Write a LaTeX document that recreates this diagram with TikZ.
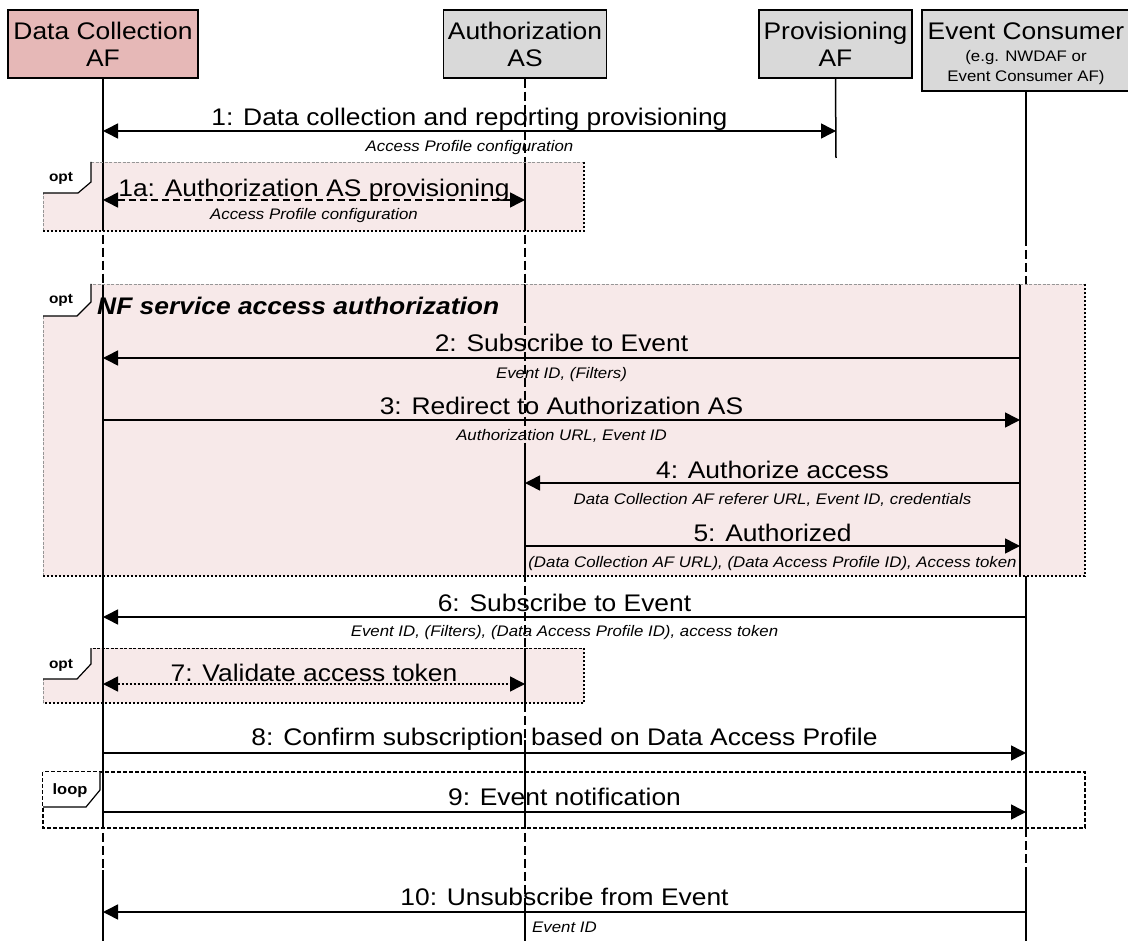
\documentclass[tikz,border=0pt]{standalone}
\usepackage{fontspec}
\setmainfont{Liberation Sans}[FakeStretch=1.1]
\usetikzlibrary{arrows.meta}
\definecolor{dcred}{RGB}{230,184,183}
\definecolor{hdgray}{RGB}{217,217,217}
\definecolor{optpink}{RGB}{247,233,233}
\definecolor{edgegray}{RGB}{150,150,150}

\begin{document}
\begin{tikzpicture}[x=1pt,y=-1pt,>={Triangle[length=15pt,width=15pt]}]
  \tikzstyle{every node}+=[inner sep=0pt]
  \tikzstyle{hdr}=[draw=black, line width=1.5pt, align=center, font=\fontsize{24}{27}\selectfont]
  \tikzstyle{life}=[line width=1.5pt, dash pattern=on 9pt off 4pt]
  \tikzstyle{actv}=[line width=1.5pt]
  \tikzstyle{msg}=[line width=1.5pt]
  \tikzstyle{lbl}=[anchor=base, font=\fontsize{24}{27}\selectfont]
  \tikzstyle{sublbl}=[anchor=base, font=\fontsize{15.3}{18}\selectfont\itshape]
  \tikzstyle{edgetl}=[draw=edgegray, line width=0.9pt, dash pattern=on 3pt off 1.5pt]
  \tikzstyle{edgebr}=[draw=black, line width=1.2pt, dash pattern=on 2pt off 2pt]
  \tikzstyle{tabline}=[line width=1.2pt]
  \tikzstyle{tabtxt}=[font=\fontsize{14}{16}\selectfont\bfseries]
  \useasboundingbox (0,0) rectangle (1128,941);

  \fill [optpink] (43,162) rectangle (584,231);
  \fill [optpink] (43,284) rectangle (1085,576);
  \fill [optpink] (43,648) rectangle (584,703);

  \node [hdr, fill=dcred, minimum width=190pt, minimum height=68pt] (dc) at (103,44) {Data Collection\\AF};
  \node [hdr, fill=hdgray, minimum width=163pt, minimum height=68pt] (as) at (525,44) {Authorization\\AS};
  \node [hdr, fill=hdgray, minimum width=153pt, minimum height=68pt] (pv) at (835.5,44) {Provisioning\\AF};
  \node [hdr, fill=hdgray, minimum width=208pt, minimum height=81pt] (ec) at (1026,50.5) {};
  \node [lbl] (ect) at (1026,40) {Event Consumer};
  \node [anchor=base, font=\fontsize{15.3}{18}\selectfont] (ecs1) at (1026,62) {(e.g. NWDAF or};
  \node [anchor=base, font=\fontsize{15.3}{18}\selectfont] (ecs2) at (1026,82) {Event Consumer AF)};

  \coordinate (dcend) at (103,941);
  \coordinate (asend) at (525,941);
  \coordinate (ecend) at (1026,941);
  \draw [life] (dc.south) -- (dcend);
  \draw [life] (as.south) -- (asend);
  \draw [life] (1026,237) -- (1026,284);
  \draw [life] (1026,828) -- (1026,870);
  \draw [actv] (dc.south) -- (103,231);
  \draw [actv] (103,284) -- (103,828);
  \draw [actv] (103,870) -- (dcend);
  \draw [actv] (525,162) -- (525,231);
  \draw [actv] (525,284) -- (525,323);
  \draw [actv] (525,445) -- (525,576);
  \draw [actv] (525,648) -- (525,703);
  \draw [actv] (525,740) -- (525,828);
  \draw [actv] (525,905) -- (asend);
  \draw [actv] (pv.south) -- (836,158);
  \draw [actv] (ec.south) -- (1026,237);
  \draw [actv] (1020,284) -- (1020,576);
  \draw [actv] (1026,576) -- (1026,828);
  \draw [actv] (1026,870) -- (ecend);

  \draw [edgetl] (43,231) -- (43,162) -- (584,162);
  \draw [edgebr] (584,162) -- (584,231) -- (43,231);
  \draw [edgetl] (43,576) -- (43,284) -- (1085,284);
  \draw [edgebr] (1085,284) -- (1085,576) -- (43,576);
  \draw [edgetl] (43,703) -- (43,648);
  \draw [draw=black, line width=1pt, dash pattern=on 3pt off 1.5pt] (43,648) -- (584,648);
  \draw [edgebr] (584,648) -- (584,703) -- (43,703);
  \draw [line width=1.2pt, dash pattern=on 4pt off 2pt] (43,772) rectangle (1085,828);

  \fill [white] (43,162) -- (91,162) -- (91,182) -- (78,193) -- (43,193) -- cycle;
  \draw [tabline] (91,162) -- (91,182) -- (78,193) -- (43,193);
  \node [tabtxt] (tab1a) at (61,178) {opt};
  \fill [white] (43,284) -- (91,284) -- (91,302) -- (77,316) -- (43,316) -- cycle;
  \draw [tabline] (91,284) -- (91,302) -- (77,316) -- (43,316);
  \node [tabtxt] (tabnf) at (61,300) {opt};
  \fill [white] (43,648) -- (91,648) -- (91,664) -- (77,679) -- (43,679) -- cycle;
  \draw [tabline] (91,648) -- (91,664) -- (77,679) -- (43,679);
  \node [tabtxt] (tab7) at (61,665) {opt};
  \fill [white] (43,772) -- (100,772) -- (100,790) -- (86,807) -- (43,807) -- cycle;
  \draw [tabline] (100,772) -- (100,790) -- (86,807) -- (43,807);
  \node [tabtxt, font=\fontsize{15}{17}\selectfont\bfseries] (tabloop) at (70,791) {loop};

  \node [anchor=base west, font=\fontsize{24}{27}\selectfont\bfseries\itshape] (nftitle) at (97,315) {NF service access authorization};

  \coordinate (m1a) at (103,131);
  \coordinate (m1b) at (836,131);
  \draw [msg, <->] (m1a) -- (m1b);
  \node [lbl] (l1) at (469.5,126) {1: Data collection and reporting provisioning};
  \node [sublbl] (s1) at (469.5,152) {Access Profile configuration};

  \coordinate (m1aa) at (103,200);
  \coordinate (m1ab) at (525,200);
  \draw [msg, <->, dash pattern=on 7pt off 4pt] (m1aa) -- (m1ab);
  \node [lbl] (l1a) at (314,197) {1a: Authorization AS provisioning};
  \node [sublbl] (s1a) at (314,220) {Access Profile configuration};

  \coordinate (m2a) at (1020,358);
  \coordinate (m2b) at (103,358);
  \draw [msg, ->] (m2a) -- (m2b);
  \node [lbl] (l2) at (561.5,352) {2: Subscribe to Event};
  \node [sublbl] (s2) at (561.5,379) {Event ID, (Filters)};

  \coordinate (m3a) at (103,420);
  \coordinate (m3b) at (1020,420);
  \draw [msg, ->] (m3a) -- (m3b);
  \node [lbl] (l3) at (561.5,415) {3: Redirect to Authorization AS};
  \node [sublbl] (s3) at (561.5,441) {Authorization URL, Event ID};

  \coordinate (m4a) at (1020,483);
  \coordinate (m4b) at (525,483);
  \draw [msg, ->] (m4a) -- (m4b);
  \node [lbl] (l4) at (772.5,478) {4: Authorize access};
  \node [sublbl] (s4) at (772.5,504) {Data Collection AF referer URL, Event ID, credentials};

  \coordinate (m5a) at (525,546);
  \coordinate (m5b) at (1020,546);
  \draw [msg, ->] (m5a) -- (m5b);
  \node [lbl] (l5) at (772.5,541) {5: Authorized};
  \node [sublbl] (s5) at (772.5,567) {(Data Collection AF URL), (Data Access Profile ID), Access token};

  \coordinate (m6a) at (1026,617);
  \coordinate (m6b) at (103,617);
  \draw [msg, ->] (m6a) -- (m6b);
  \node [lbl] (l6) at (564.5,611) {6: Subscribe to Event};
  \node [sublbl] (s6) at (564.5,636) {Event ID, (Filters), (Data Access Profile ID), access token};

  \coordinate (m7a) at (103,684);
  \coordinate (m7b) at (525,684);
  \draw [msg, <->, dash pattern=on 2pt off 2pt] (m7a) -- (m7b);
  \node [lbl] (l7) at (314,681) {7: Validate access token};

  \coordinate (m8a) at (103,753);
  \coordinate (m8b) at (1026,753);
  \draw [msg, ->] (m8a) -- (m8b);
  \node [lbl] (l8) at (564.5,745) {8: Confirm subscription based on Data Access Profile};

  \coordinate (m9a) at (103,812);
  \coordinate (m9b) at (1026,812);
  \draw [msg, ->] (m9a) -- (m9b);
  \node [lbl] (l9) at (564.5,805) {9: Event notification};

  \coordinate (m10a) at (1026,912);
  \coordinate (m10b) at (103,912);
  \draw [msg, ->] (m10a) -- (m10b);
  \node [lbl] (l10) at (564.5,905) {10: Unsubscribe from Event};
  \node [sublbl] (s10) at (564.5,932) {Event ID};
\end{tikzpicture}
\end{document}
